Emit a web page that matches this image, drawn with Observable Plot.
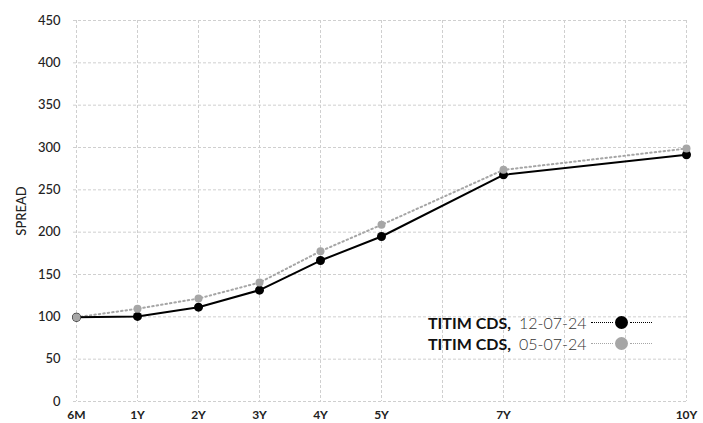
<!DOCTYPE html>
<html><head><meta charset="utf-8">
<script src="https://cdn.jsdelivr.net/npm/d3@7"></script>
<script src="https://cdn.jsdelivr.net/npm/@observablehq/plot@0.6"></script>
<style>
body{margin:0;background:#fff;}
#wrap{position:relative;width:703px;height:423px;font-family:Lato,"Open Sans",sans-serif;}
#legend{position:absolute;left:428px;top:312px;font-size:16px;line-height:21px;}
.row{display:flex;align-items:center;height:21px;white-space:nowrap;}
.name{font-weight:700;color:#111;}
.date{font-weight:300;color:#333;margin-left:8px;}
.seg{display:inline-block;width:22px;border-top:1.6px dotted #000;margin:0 2px;}
.dot{display:inline-block;width:13px;height:13px;border-radius:50%;}
</style></head>
<body><div id="wrap"><div id="chart"></div><div id="legend"></div></div>
<script>
const tenors = ["6M","1Y","2Y","3Y","4Y","5Y","6Y","7Y","8Y","9Y","10Y"];
const shownTenors = ["6M","1Y","2Y","3Y","4Y","5Y","7Y","10Y"];
const curveTenors = ["6M","1Y","2Y","3Y","4Y","5Y","7Y","10Y"];
const spread120724 = [99.5, 100.5, 111.4, 131.5, 166.5, 194.9, 267.7, 291.4];
const spread050724 = [99.5, 109.5, 121.6, 140.5, 177.5, 208.7, 273.6, 298.8];
const yTicks = [0,50,100,150,200,250,300,350,400,450];
const seriesNames = ["TITIM CDS,", "TITIM CDS,"];
const seriesDates = ["12-07-24", "05-07-24"];
const seriesColors = ["#000000", "#a6a6a6"];

const dNew = curveTenors.map((t,i)=>({tenor:t, spread:spread120724[i]}));
const dOld = curveTenors.map((t,i)=>({tenor:t, spread:spread050724[i]}));

const chart = Plot.plot({
  width:703, height:423,
  marginTop:20, marginBottom:22, marginLeft:73, marginRight:15,
  style:{fontFamily:"Lato, 'Open Sans', sans-serif", color:"#222", background:"#fff"},
  x:{type:"point", domain:tenors, padding:0},
  y:{domain:[0,450]},
  marks:[
    Plot.gridX(tenors,{stroke:"#cfcfcf", strokeOpacity:1, strokeDasharray:"3,2", strokeWidth:1}),
    Plot.gridY(yTicks,{stroke:"#cfcfcf", strokeOpacity:1, strokeDasharray:"3,2", strokeWidth:1}),
    Plot.axisY(yTicks,{tickSize:0, tickPadding:13, fontSize:13, fontWeight:500, label:"SPREAD", labelAnchor:"center", labelArrow:"none", labelOffset:57}),
    Plot.axisX(shownTenors,{tickSize:0, tickPadding:9, fontSize:12, fontWeight:700, label:null}),
    Plot.line(dOld,{x:"tenor", y:"spread", stroke:seriesColors[1], strokeWidth:2, strokeDasharray:"1.5,3", strokeLinecap:"round"}),
    Plot.line(dNew,{x:"tenor", y:"spread", stroke:seriesColors[0], strokeWidth:2}),
    Plot.dot(dNew,{x:"tenor", y:"spread", fill:seriesColors[0], r:4.5}),
    Plot.dot(dOld,{x:"tenor", y:"spread", fill:seriesColors[1], r:4})
  ]
});
document.getElementById("chart").append(chart);

const leg = document.getElementById("legend");
seriesNames.forEach((n,i)=>{
  const row = document.createElement("div"); row.className="row";
  const c = seriesColors[i];
  row.innerHTML = `<span class="name">${n}</span><span class="date">${seriesDates[i]}</span>`+
    `<span class="seg" style="border-top-color:${c};margin-left:4px"></span><span class="dot" style="background:${c}"></span><span class="seg" style="border-top-color:${c}"></span>`;
  leg.append(row);
});
</script></body></html>
